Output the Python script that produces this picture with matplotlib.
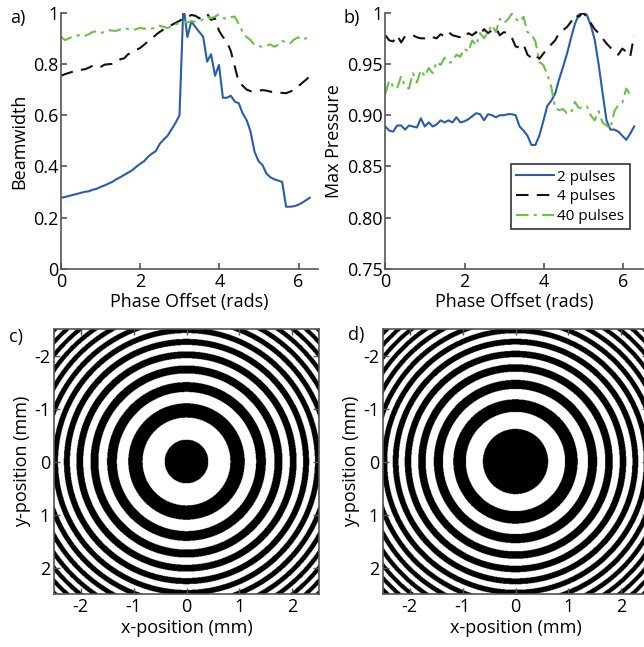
import numpy as np
import matplotlib
matplotlib.use("Agg")
import matplotlib.pyplot as plt

plt.rcParams['font.family'] = ['Open Sans', 'DejaVu Sans']
plt.rcParams['axes.unicode_minus'] = False

# phase offset (rads), 64 points between 0 and 2*pi
phase = np.linspace(0, 2 * np.pi, 64)

# a) beamwidth
bw_2 = [0.278, 0.281, 0.285, 0.289, 0.293, 0.297, 0.301, 0.303, 0.309, 0.313,
        0.320, 0.326, 0.333, 0.340, 0.350, 0.358, 0.367, 0.376, 0.385, 0.398,
        0.410, 0.420, 0.437, 0.450, 0.460, 0.488, 0.505, 0.520, 0.545, 0.570,
        0.600, 1.030, 0.905, 0.965, 0.945, 0.925, 0.906, 0.809, 0.838, 0.754,
        0.796, 0.668, 0.668, 0.676, 0.653, 0.647, 0.607, 0.581, 0.536, 0.458,
        0.421, 0.406, 0.373, 0.358, 0.350, 0.345, 0.340, 0.243, 0.243, 0.245,
        0.250, 0.258, 0.268, 0.278]
bw_4 = [0.754, 0.760, 0.765, 0.770, 0.775, 0.777, 0.779, 0.785, 0.793, 0.786,
        0.788, 0.797, 0.799, 0.800, 0.812, 0.818, 0.822, 0.838, 0.844, 0.854,
        0.862, 0.874, 0.888, 0.900, 0.913, 0.925, 0.935, 0.945, 0.952, 0.960,
        0.968, 0.978, 0.982, 0.991, 0.988, 0.978, 0.990, 0.996, 0.972, 0.978,
        0.930, 0.905, 0.887, 0.850, 0.790, 0.730, 0.715, 0.700, 0.694, 0.694,
        0.695, 0.698, 0.696, 0.692, 0.690, 0.689, 0.687, 0.686, 0.692, 0.698,
        0.712, 0.725, 0.738, 0.752]
bw_40 = [0.906, 0.893, 0.900, 0.906, 0.910, 0.915, 0.910, 0.915, 0.925, 0.927,
         0.920, 0.925, 0.932, 0.930, 0.929, 0.935, 0.940, 0.936, 0.932, 0.935,
         0.941, 0.938, 0.936, 0.938, 0.943, 0.949, 0.945, 0.940, 0.948, 0.954,
         0.960, 0.965, 0.962, 0.967, 0.965, 0.966, 0.975, 0.985, 0.978, 0.985,
         0.993, 0.980, 0.975, 0.982, 0.985, 0.955, 0.925, 0.905, 0.893, 0.874,
         0.870, 0.867, 0.872, 0.876, 0.867, 0.875, 0.890, 0.884, 0.880, 0.895,
         0.904, 0.893, 0.900, 0.910]

# b) max pressure
mp_2 = [0.889, 0.885, 0.884, 0.890, 0.890, 0.886, 0.890, 0.889, 0.888, 0.897,
        0.889, 0.893, 0.889, 0.891, 0.895, 0.893, 0.895, 0.893, 0.898, 0.893,
        0.894, 0.896, 0.899, 0.902, 0.901, 0.895, 0.901, 0.900, 0.898, 0.900,
        0.900, 0.901, 0.901, 0.900, 0.889, 0.885, 0.880, 0.871, 0.871, 0.880,
        0.894, 0.909, 0.914, 0.921, 0.935, 0.947, 0.960, 0.975, 0.989, 0.998,
        1.000, 0.998, 0.988, 0.974, 0.950, 0.922, 0.895, 0.886, 0.886, 0.884,
        0.880, 0.876, 0.882, 0.889]
mp_4 = [0.978, 0.973, 0.972, 0.978, 0.971, 0.977, 0.978, 0.978, 0.976, 0.975,
        0.975, 0.977, 0.976, 0.975, 0.979, 0.977, 0.981, 0.978, 0.977, 0.976,
        0.975, 0.980, 0.978, 0.981, 0.978, 0.984, 0.980, 0.983, 0.985, 0.978,
        0.981, 0.980, 0.976, 0.967, 0.966, 0.969, 0.959, 0.956, 0.959, 0.955,
        0.960, 0.965, 0.969, 0.973, 0.980, 0.983, 0.986, 0.991, 0.998, 0.996,
        1.000, 0.996, 0.990, 0.984, 0.980, 0.975, 0.970, 0.966, 0.962, 0.959,
        0.965, 0.962, 0.957, 0.978]
mp_40 = [0.921, 0.934, 0.928, 0.926, 0.938, 0.928, 0.926, 0.941, 0.932, 0.944,
         0.938, 0.946, 0.941, 0.952, 0.949, 0.956, 0.951, 0.952, 0.959, 0.957,
         0.965, 0.962, 0.973, 0.968, 0.980, 0.975, 0.981, 0.988, 0.981, 0.994,
         0.990, 0.993, 0.999, 0.994, 0.991, 0.996, 0.981, 0.979, 0.972, 0.952,
         0.949, 0.940, 0.928, 0.907, 0.905, 0.906, 0.902, 0.902, 0.913, 0.907,
         0.908, 0.909, 0.900, 0.895, 0.904, 0.893, 0.890, 0.887, 0.904, 0.910,
         0.912, 0.926, 0.920, 0.920]

labels = ['2 pulses', '4 pulses', '40 pulses']

# c), d) zone patterns: ring boundaries at r^2 = offset + n*step (mm^2)
ring_offset = [0.17, 0.38]
ring_step = [0.52, 0.50]

blue = '#2a5caa'
green = '#6cc04a'
spine_col = '#555555'
fs = 13

fig = plt.figure(figsize=(6.44, 6.47), dpi=100)

def style_line_axes(ax):
    for s in ['top', 'right']:
        ax.spines[s].set_visible(False)
    for s in ['left', 'bottom']:
        ax.spines[s].set_color(spine_col)
        ax.spines[s].set_linewidth(1.2)
    ax.tick_params(direction='in', length=4, width=1.2, color=spine_col,
                   labelsize=fs)
    ax.tick_params(axis='x', pad=3)
    ax.tick_params(axis='y', pad=2)

# a)
ax1 = fig.add_axes([0.0947, 0.5842, 0.3997, 0.3962])
ax1.plot(phase, bw_2, color=blue, lw=1.5, label=labels[0])
ax1.plot(phase, bw_4, color='#111111', lw=1.5, ls=(0, (6, 4)), label=labels[1])
ax1.plot(phase, bw_40, color=green, lw=1.5, ls=(0, (6, 2.5, 1.5, 2.5)), label=labels[2])
ax1.set_xlim(0, 6.5)
ax1.set_ylim(0, 1)
ax1.set_xticks([0, 2, 4, 6])
ax1.set_yticks([0, 0.2, 0.4, 0.6, 0.8, 1])
ax1.set_yticklabels(['0', '0.2', '0.4', '0.6', '0.8', '1'])
ax1.set_xlabel('Phase Offset (rads)', fontsize=fs, labelpad=1)
ax1.set_ylabel('Beamwidth', fontsize=fs, labelpad=3)
style_line_axes(ax1)

# b)
ax2 = fig.add_axes([0.5983, 0.5842, 0.3997, 0.3962])
ax2.plot(phase, mp_2, color=blue, lw=1.5, label=labels[0])
ax2.plot(phase, mp_4, color='#111111', lw=1.5, ls=(0, (6, 4)), label=labels[1])
ax2.plot(phase, mp_40, color=green, lw=1.5, ls=(0, (6, 2.5, 1.5, 2.5)), label=labels[2])
ax2.set_xlim(0, 6.5)
ax2.set_ylim(0.75, 1)
ax2.set_xticks([0, 2, 4, 6])
ax2.set_yticks([0.75, 0.80, 0.85, 0.90, 0.95, 1])
ax2.set_yticklabels(['0.75', '0.80', '0.85', '0.90', '0.95', '1'])
ax2.set_xlabel('Phase Offset (rads)', fontsize=fs, labelpad=1)
ax2.set_ylabel('Max Pressure', fontsize=fs, labelpad=3)
style_line_axes(ax2)
leg = ax2.legend(loc='lower right', bbox_to_anchor=(0.95, 0.155), borderaxespad=0,
                 fontsize=11, frameon=True, fancybox=False, handlelength=2.5,
                 borderpad=0.35, labelspacing=0.3, handletextpad=0.2)
leg.get_frame().set_edgecolor('black')
leg.get_frame().set_linewidth(1.2)

# c), d)
grid = np.linspace(-2.5, 2.5, 600)
gx, gy = np.meshgrid(grid, grid)
r2 = gx ** 2 + gy ** 2
positions = [[0.0823, 0.0819, 0.4146, 0.409], [0.5932, 0.0819, 0.4146, 0.409]]
for i in range(2):
    ax = fig.add_axes(positions[i])
    zone = np.floor((r2 - ring_offset[i]) / ring_step[i]).astype(int)
    img = (zone % 2 == 0).astype(float)
    ax.imshow(img, cmap='gray', vmin=0, vmax=1, extent=[-2.5, 2.5, 2.5, -2.5],
              interpolation='antialiased')
    ax.set_xlim(-2.5, 2.5)
    ax.set_ylim(2.5, -2.5)
    ax.set_xticks([-2, -1, 0, 1, 2])
    ax.set_yticks([-2, -1, 0, 1, 2])
    ax.tick_params(direction='in', length=4, width=1.0, color=spine_col,
                   labelsize=fs, top=True, right=True, pad=3)
    for s in ax.spines.values():
        s.set_color(spine_col)
        s.set_linewidth(1.2)
    ax.set_xlabel('x-position (mm)', fontsize=fs, labelpad=2)
    ax.set_ylabel('y-position (mm)', fontsize=fs, labelpad=2)

fig.text(0.015, 0.965, 'a)', fontsize=fs)
fig.text(0.534, 0.965, 'b)', fontsize=fs)
fig.text(0.014, 0.472, 'c)', fontsize=fs)
fig.text(0.541, 0.475, 'd)', fontsize=fs)

fig.savefig('out.png', dpi=100)
